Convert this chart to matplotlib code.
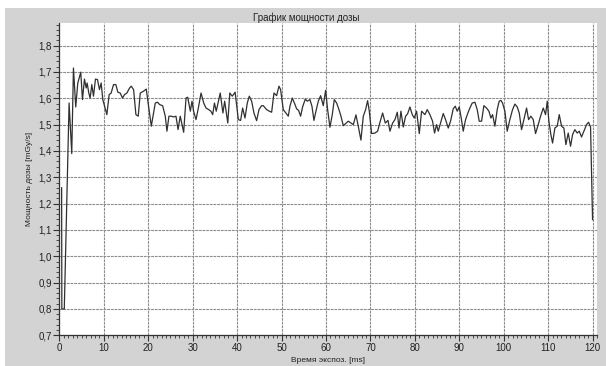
import matplotlib
matplotlib.use("Agg")
import matplotlib.pyplot as plt
from matplotlib.ticker import MultipleLocator, FixedLocator
from matplotlib.patches import Rectangle

# ---- data ----
time_ms = [
    0.5, 0.55, 1.1, 2.18, 2.78, 3.16, 3.68, 4.14, 4.81, 5.19, 5.64, 6.02, 6.24, 6.62, 6.92,
    7.29, 7.67, 8.12, 8.57, 9.02, 9.40, 9.77, 10.68, 11.2, 11.65, 12.18, 12.7, 13.16, 13.68,
    14.2, 14.66, 15.19, 15.79, 16.17, 16.7, 17.22, 17.74, 18.2, 18.95, 19.55, 20.68, 21.58,
    22.1, 22.56, 23.23, 23.83, 24.2, 24.66, 25.19, 25.7, 26.24, 26.7, 27.2, 27.97, 28.5,
    28.87, 29.47, 29.85, 30.2, 30.75, 31.35, 31.88, 32.48, 33.0, 33.6, 34.1, 34.5, 34.9,
    35.3, 36.2, 36.8, 37.2, 37.9, 38.35, 38.9, 39.55, 40.27, 40.79, 41.24, 41.77, 42.29,
    42.74, 43.27, 43.79, 44.39, 44.92, 45.52, 45.89, 46.64, 47.24, 47.77, 48.29, 48.89,
    49.42, 49.79, 50.39, 50.99, 51.52, 51.89, 52.42, 52.94, 53.39, 53.84, 54.29, 54.74,
    55.34, 55.79, 56.39, 56.84, 57.29, 57.74, 58.27, 58.79, 59.39, 59.92, 60.37, 60.89,
    61.42, 61.87, 62.40, 62.92, 63.37, 63.90, 64.42, 65.02, 65.62, 66.15, 66.75, 67.27,
    67.87, 68.40, 68.92, 69.37, 69.75, 70.27, 71.02, 71.62, 72.15, 72.75, 73.35, 73.95,
    74.40, 75.00, 75.52, 76.05, 76.43, 76.87, 77.40, 77.92, 78.37, 78.90, 79.42, 79.87,
    80.40, 81.00, 81.52, 82.27, 82.79, 83.39, 83.99, 84.44, 84.89, 85.27, 85.79, 86.39,
    86.92, 87.52, 88.04, 88.64, 89.09, 89.54, 89.99, 90.44, 90.89, 91.42, 91.94, 92.39,
    92.92, 93.52, 94.04, 94.49, 95.02, 95.54, 96.14, 96.67, 97.12, 97.49, 98.02, 98.54,
    98.99, 99.37, 99.74, 100.27, 100.79, 101.39, 101.99, 102.52, 103.05, 103.50, 104.02,
    104.55, 105.15, 105.60, 106.12, 106.65, 107.17, 107.77, 108.30, 108.90, 109.42,
    109.80, 110.17, 110.62, 111.00, 111.52, 112.05, 112.50, 113.02, 113.55, 114.00,
    114.52, 115.05, 115.50, 116.02, 116.55, 117.00, 117.52, 118.05, 118.65, 119.10,
    119.55, 120.00,
]
dose_rate = [
    1.26, 0.80, 0.80, 1.582, 1.390, 1.715, 1.567, 1.658, 1.699, 1.595, 1.673, 1.639, 1.658,
    1.620, 1.601, 1.652, 1.608, 1.673, 1.671, 1.633, 1.658, 1.595, 1.538, 1.614, 1.620,
    1.652, 1.652, 1.623, 1.620, 1.601, 1.614, 1.620, 1.639, 1.646, 1.633, 1.538, 1.532,
    1.620, 1.627, 1.635, 1.494, 1.582, 1.585, 1.576, 1.572, 1.532, 1.475, 1.532, 1.532,
    1.529, 1.532, 1.481, 1.532, 1.471, 1.601, 1.604, 1.551, 1.589, 1.551, 1.519, 1.570,
    1.620, 1.582, 1.563, 1.557, 1.551, 1.538, 1.582, 1.551, 1.620, 1.544, 1.589, 1.506,
    1.620, 1.608, 1.623, 1.519, 1.516, 1.563, 1.525, 1.582, 1.608, 1.589, 1.544, 1.515,
    1.557, 1.572, 1.572, 1.557, 1.551, 1.547, 1.620, 1.610, 1.646, 1.633, 1.557, 1.544,
    1.532, 1.570, 1.601, 1.580, 1.560, 1.554, 1.532, 1.567, 1.597, 1.589, 1.595, 1.570,
    1.516, 1.551, 1.589, 1.610, 1.572, 1.630, 1.557, 1.490, 1.538, 1.595, 1.582, 1.557,
    1.532, 1.496, 1.504, 1.513, 1.506, 1.500, 1.537, 1.494, 1.441, 1.532, 1.557, 1.591,
    1.551, 1.466, 1.468, 1.475, 1.509, 1.544, 1.506, 1.516, 1.475, 1.506, 1.519, 1.547,
    1.487, 1.551, 1.491, 1.532, 1.541, 1.567, 1.538, 1.525, 1.551, 1.466, 1.551, 1.538,
    1.557, 1.538, 1.513, 1.468, 1.500, 1.475, 1.506, 1.542, 1.519, 1.487, 1.513, 1.560,
    1.570, 1.551, 1.567, 1.525, 1.475, 1.519, 1.544, 1.563, 1.582, 1.585, 1.557, 1.513,
    1.513, 1.572, 1.563, 1.551, 1.525, 1.538, 1.494, 1.557, 1.589, 1.592, 1.582, 1.551,
    1.475, 1.519, 1.557, 1.578, 1.567, 1.544, 1.481, 1.519, 1.563, 1.519, 1.532, 1.519,
    1.466, 1.500, 1.532, 1.563, 1.538, 1.589, 1.513, 1.462, 1.430, 1.487, 1.494, 1.538,
    1.494, 1.487, 1.424, 1.468, 1.418, 1.462, 1.481, 1.468, 1.475, 1.453, 1.475, 1.500,
    1.509, 1.491, 1.139,
]

x_ticks = [0, 10, 20, 30, 40, 50, 60, 70, 80, 90, 100, 110, 120]
y_ticks = [0.7, 0.8, 0.9, 1.0, 1.1, 1.2, 1.3, 1.4, 1.5, 1.6, 1.7, 1.8]
y_tick_labels = ["0,7", "0,8", "0,9", "1,0", "1,1", "1,2", "1,3", "1,4", "1,5", "1,6", "1,7", "1,8"]

title = "График мощности дозы"
x_label = "Время экспоз. [ms]"
y_label = "Мощность дозы [mGy/s]"

# ---- figure ----
plt.rcParams["font.family"] = ["Liberation Sans", "DejaVu Sans"]
W, H = 606, 366
fig = plt.figure(figsize=(W / 100, H / 100), dpi=100, facecolor="white")
fig.patches.append(Rectangle((5 / W, 0), 1 - 5 / W, 1 - 8 / H, transform=fig.transFigure,
                             facecolor="#d3d3d3", edgecolor="none", zorder=-10))

left, right, top, bottom = 59.4, 597, 22.7, 335.3
ax = fig.add_axes([left / W, 1 - bottom / H, (right - left) / W, (bottom - top) / H])
ax.set_facecolor("white")

ax.plot(time_ms, dose_rate, color="#303030", lw=0.9, zorder=3)

ax.set_xlim(0, 121)
ax.set_ylim(0.7, 1.887)
ax.xaxis.set_major_locator(FixedLocator(x_ticks))
ax.xaxis.set_minor_locator(MultipleLocator(1))
ax.set_yticks(y_ticks)
ax.set_yticklabels(y_tick_labels)
ax.yaxis.set_minor_locator(MultipleLocator(0.02))

ax.grid(True, which="major", color="#8c8c8c", linestyle=(0, (2.5, 0.8)), lw=0.8, zorder=1)

for s in ["top", "right"]:
    ax.spines[s].set_visible(False)
for s in ["left", "bottom"]:
    ax.spines[s].set_color("#333333")
    ax.spines[s].set_linewidth(0.9)

ax.tick_params(axis="both", which="major", direction="out", length=4, width=0.8,
               color="#333333", labelsize=7, labelcolor="#222222", pad=1.5)
ax.tick_params(axis="both", which="minor", direction="out", length=2, width=0.6,
               color="#333333")

ax.set_xlabel(x_label, fontsize=6, color="#222222")
ax.xaxis.set_label_coords(0.5, -0.069)
ax.set_ylabel(y_label, fontsize=6, color="#222222")
ax.yaxis.set_label_coords(-0.049, 0.5)

fig.text(306 / W, 1 - 18 / H, title, ha="center", va="center", fontsize=7, color="#222222")

fig.savefig("out.png", dpi=100, facecolor=fig.get_facecolor())
